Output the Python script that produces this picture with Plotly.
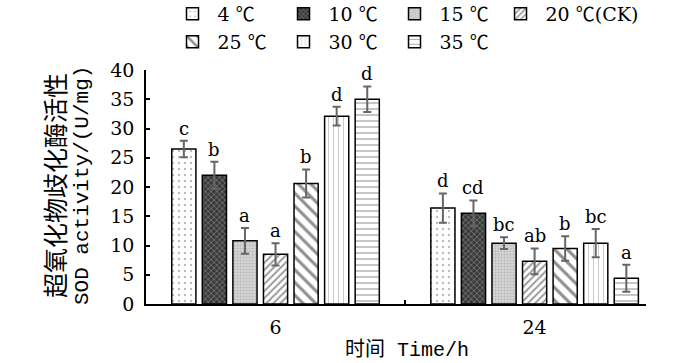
import plotly.graph_objects as go

times = ["6", "24"]
temps = ["4 ℃", "10 ℃", "15 ℃", "20 ℃(CK)", "25 ℃", "30 ℃", "35 ℃"]
sod_6h = [26.5, 22.0, 10.8, 8.5, 20.6, 32.1, 35.0]
sod_24h = [16.4, 15.5, 10.4, 7.3, 9.5, 10.4, 4.4]
err_6h = [1.4, 2.3, 2.2, 1.9, 2.4, 1.6, 2.2]
err_24h = [2.5, 2.2, 1.0, 2.2, 2.1, 2.4, 2.3]
letters_6h = ["c", "b", "a", "a", "b", "d", "d"]
letters_24h = ["d", "cd", "bc", "ab", "b", "bc", "a"]
y_ticks = [0, 5, 10, 15, 20, 25, 30, 35, 40]

patterns = [
    dict(shape=".", bgcolor="white", fgcolor="#777", size=6, solidity=0.12),
    dict(shape="x", bgcolor="#3a3a3a", fgcolor="#bbb", size=4, solidity=0.35),
    dict(shape=".", bgcolor="#d6d6d6", fgcolor="#999", size=3, solidity=0.4),
    dict(shape="/", bgcolor="white", fgcolor="#333", size=5, solidity=0.4),
    dict(shape="\\", bgcolor="white", fgcolor="#222", size=9, solidity=0.35),
    dict(shape="|", bgcolor="white", fgcolor="#999", size=5, solidity=0.2),
    dict(shape="-", bgcolor="white", fgcolor="#666", size=6, solidity=0.25),
]
# which legend box each entry goes in (row 1, the wide 4th entry, row 2)
legend_of = ["legend", "legend", "legend", "legend2",
             "legend3", "legend3", "legend3"]

NUM_FONT = "DejaVu Serif, Noto Sans CJK SC"
CJK_FONT = "Noto Sans CJK SC"
MONO_FONT = "Liberation Mono"

BARGAP = 0.174
BARGROUPGAP = 0.21


def legend_label(name):
    return name.replace("℃", "<span style='font-family:Noto Sans CJK SC'>℃</span>")


fig = go.Figure()
for k, name in enumerate(temps):
    fig.add_trace(go.Bar(
        x=times,
        y=[sod_6h[k], sod_24h[k]],
        name=legend_label(name),
        legend=legend_of[k],
        marker=dict(color="white", pattern=patterns[k],
                    line=dict(color="black", width=1.5)),
        error_y=dict(type="data", array=[err_6h[k], err_24h[k]],
                     color="#666", thickness=2, width=4),
    ))

slot = (1 - BARGAP) / len(temps)
annotations = []
for g, (vals, errs, lets) in enumerate([(sod_6h, err_6h, letters_6h),
                                         (sod_24h, err_24h, letters_24h)]):
    for k in range(len(temps)):
        annotations.append(dict(
            x=g + (k - (len(temps) - 1) / 2) * slot, y=vals[k] + errs[k],
            xref="x", yref="y", text=lets[k], showarrow=False,
            yanchor="bottom", xanchor="center", yshift=0,
            font=dict(family=NUM_FONT, size=18, color="black"),
        ))

# axis titles
annotations.append(dict(
    x=-0.184, y=0.504, xref="paper", yref="paper", textangle=-90,
    xanchor="center", yanchor="middle",
    text="超氧化物歧化酶活性", showarrow=False,
    font=dict(family=CJK_FONT, size=25, color="black"),
))
annotations.append(dict(
    x=-0.128, y=0.504, xref="paper", yref="paper", textangle=-90,
    xanchor="center", yanchor="middle",
    text="SOD activity/(U/mg)", showarrow=False,
    font=dict(family=MONO_FONT, size=21, color="black"),
))
annotations.append(dict(
    x=0.522, y=-0.188, xref="paper", yref="paper",
    xanchor="center", yanchor="middle",
    text="<span style='font-family:Noto Sans CJK SC'>时间</span> Time/h",
    showarrow=False,
    font=dict(family=MONO_FONT, size=20, color="black"),
))

leg_common = dict(orientation="h", xref="container", yref="paper",
                  xanchor="left", yanchor="top", traceorder="normal",
                  itemwidth=40,
                  font=dict(family=NUM_FONT, size=19, color="black"),
                  bgcolor="rgba(0,0,0,0)")

fig.update_layout(
    width=700, height=363,
    margin=dict(l=146, r=54, t=70, b=59, autoexpand=False),
    paper_bgcolor="white", plot_bgcolor="white",
    barmode="group", bargap=BARGAP, bargroupgap=BARGROUPGAP,
    showlegend=True,
    legend=dict(x=0.2393, y=1.3205, entrywidth=56, **leg_common),
    legend2=dict(x=0.7079, y=1.3205, **leg_common),
    legend3=dict(x=0.2393, y=1.2009, entrywidth=56, **leg_common),
    xaxis=dict(type="category", range=[-0.5, 1.43], showline=True,
               linecolor="black", linewidth=1.5, ticks="inside",
               tickson="boundaries", ticklen=4, tickwidth=1.5,
               tickcolor="black", showgrid=False, zeroline=False,
               ticklabelstandoff=5,
               tickfont=dict(family=NUM_FONT, size=19, color="black")),
    yaxis=dict(range=[0, 40], tickmode="array", tickvals=y_ticks,
               showline=True, linecolor="black", linewidth=1.5,
               ticks="inside", ticklen=4, tickwidth=1.5, tickcolor="black",
               showgrid=False, zeroline=False, ticklabelstandoff=6,
               tickfont=dict(family=NUM_FONT, size=19, color="black")),
    annotations=annotations,
)

fig.write_html("out.html", config={"displayModeBar": False},
               post_script="document.body.style.margin='0';")
